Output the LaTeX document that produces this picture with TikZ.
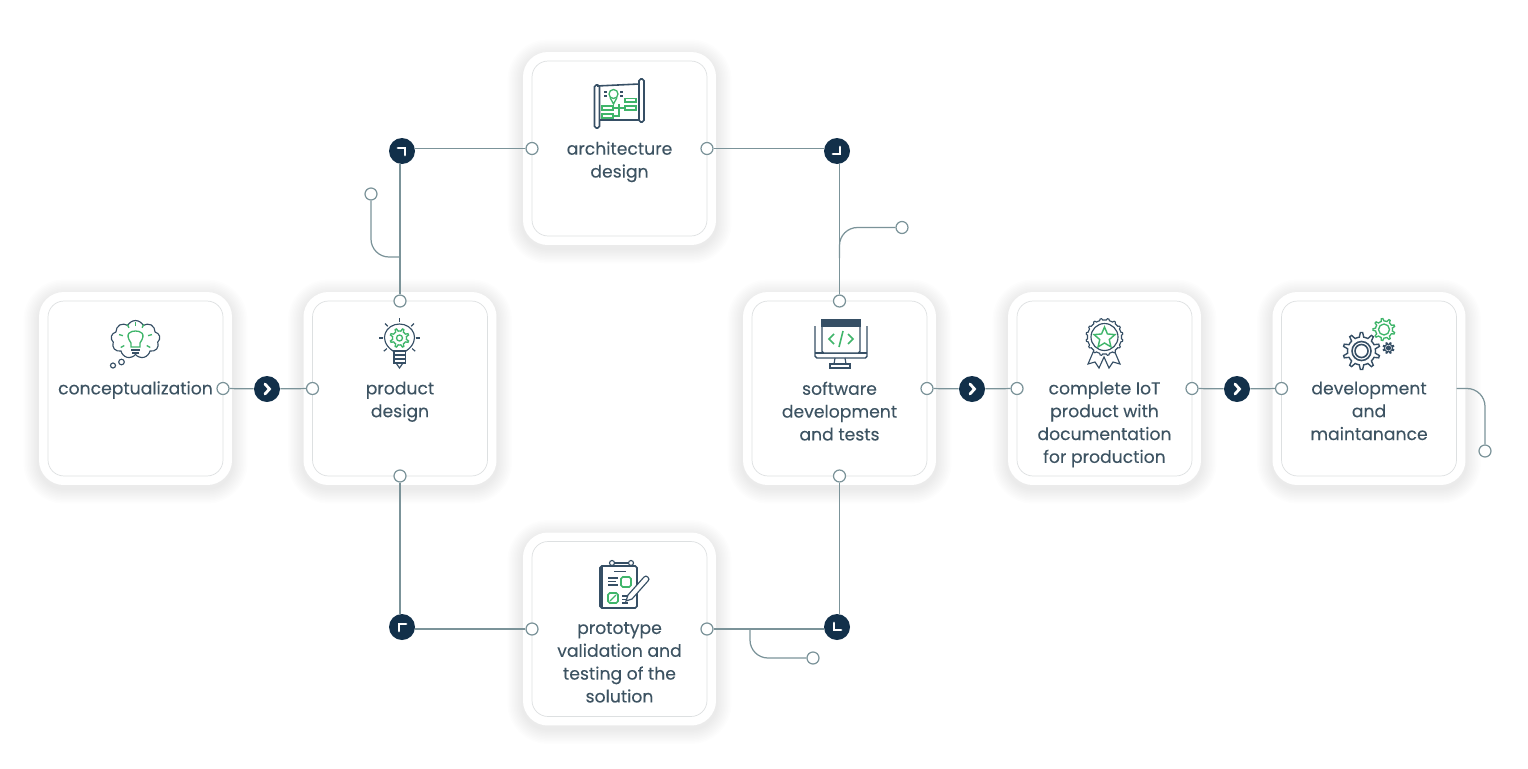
\documentclass[tikz,border=0pt]{standalone}
\usepackage{fontspec}
\setmainfont{Poppins}[FakeBold=0.12]
\usetikzlibrary{backgrounds,shapes.symbols,shapes.geometric}
\definecolor{navy}{HTML}{12304A}
\definecolor{leaf}{HTML}{3FB56A}
\definecolor{wire}{HTML}{7B9399}
\definecolor{slate}{HTML}{3D5362}
\definecolor{rim}{HTML}{DDE0E1}
\newcommand{\gearicon}[6]{\draw[#1,shift={(#2,#3)}] (0:#4) \foreach \k in {1,...,#6} { -- ({(\k-.75)*360/#6}:#4) -- ({(\k-.6)*360/#6}:#5) -- ({(\k-.4)*360/#6}:#5) -- ({(\k-.25)*360/#6}:#4) -- ({\k*360/#6}:#4)} -- cycle;}

\begin{document}
\begin{tikzpicture}[x=0.02cm,y=-0.02cm]
  \tikzstyle{card}=[draw=rim,fill=white,rounded corners=0.32cm,minimum width=3.5cm,minimum height=3.5cm,inner sep=0pt,outer sep=0pt]
  \tikzstyle{cardlabel}=[anchor=north,yshift=0.145cm,align=center,inner sep=0pt,text=slate,font=\fontsize{9.8}{13}\selectfont,execute at begin node=\strut]
  \tikzstyle{port}=[circle,draw=wire,fill=white,line width=0.7pt,minimum size=0.24cm,inner sep=0pt]
  \tikzstyle{hub}=[circle,fill=navy,minimum size=0.52cm,inner sep=0pt]
  \tikzstyle{hubmark}=[white,line width=1.6pt,line cap=round]
  \tikzstyle{wireline}=[wire,line width=0.7pt]
  \tikzstyle{dk}=[navy!85!white,line width=0.65pt]
  \tikzstyle{gn}=[leaf,line width=0.75pt]
  \useasboundingbox (0,0) rectangle (1528,768);
  % cards
  \node[card] (concept) at (135.5,388.5) {};
  \node[card] (product) at (400,388.5) {};
  \node[card] (archi) at (619.5,148.5) {};
  \node[card] (proto) at (619.5,629) {};
  \node[card] (soft) at (839.5,388.5) {};
  \node[card] (iot) at (1104.5,388.5) {};
  \node[card] (devel) at (1369,388.5) {};
  \begin{scope}[on background layer]
    \foreach \n in {concept,product,archi,proto,soft,iot,devel} {
      \foreach \w in {22,25,...,50}
        \draw[black,draw opacity=0.006,line width=\w*0.02cm,rounded corners=0.32cm,transform canvas={yshift=-0.06cm}] (\n.north west) rectangle (\n.south east);
      \draw[white,line width=0.36cm,rounded corners=0.32cm] (\n.north west) rectangle (\n.south east);
    }
  \end{scope}
  % labels
  \node[cardlabel,yshift=0.065cm] (conceptlabel) at (concept.center) {conceptualization};
  \node[cardlabel] (productlabel) at (product.center) {product\\design};
  \node[cardlabel] (archilabel) at (archi.center) {architecture\\design};
  \node[cardlabel] (protolabel) at (proto.center) {prototype\\validation and\\testing of the\\solution};
  \node[cardlabel] (softlabel) at (soft.center) {software\\development\\and tests};
  \node[cardlabel] (iotlabel) at (iot.center) {complete IoT\\product with\\documentation\\for production};
  \node[cardlabel] (devellabel) at (devel.center) {development\\and\\maintanance};
  % ports
  \node[port] (conceptout) at (concept.east) {};
  \node[port] (productin) at (product.west) {};
  \node[port] (producttop) at (product.north) {};
  \node[port] (productbot) at (product.south) {};
  \node[port] (archiin) at (archi.west) {};
  \node[port] (archiout) at (archi.east) {};
  \node[port] (protoin) at (proto.west) {};
  \node[port] (protoout) at (proto.east) {};
  \node[port] (softtop) at (soft.north) {};
  \node[port] (softbot) at (soft.south) {};
  \node[port] (softout) at (soft.east) {};
  \node[port] (iotin) at (iot.west) {};
  \node[port] (iotout) at (iot.east) {};
  \node[port] (develin) at (devel.west) {};
  \node[port] (forka) at (371,194) {};
  \node[port] (forkb) at (902,227.5) {};
  \node[port] (forkc) at (813,658) {};
  \node[port] (forkd) at (1485,451) {};
  % hubs
  \node[hub] (hubone) at (267,389) {};
  \node[hub] (hubtwo) at (972,389) {};
  \node[hub] (hubthree) at (1237,389) {};
  \node[hub] (turntl) at (402,151) {};
  \node[hub] (turntr) at (837,151) {};
  \node[hub] (turnbl) at (402,627) {};
  \node[hub] (turnbr) at (837,627) {};
  \foreach \h in {hubone,hubtwo,hubthree}
    \draw[hubmark] (\h.center) ++(-2,-5) -- ++(4.5,5) -- ++(-4.5,5);
  \draw[hubmark] (turntl.center) ++(-4,-3) -- ++(7,0) -- ++(0,7);
  \draw[hubmark] (turntr.center) ++(-4,3) -- ++(7,0) -- ++(0,-7);
  \draw[hubmark] (turnbl.center) ++(-3,4) -- ++(0,-7) -- ++(7,0);
  \draw[hubmark] (turnbr.center) ++(-3,-4) -- ++(0,7) -- ++(7,0);
  % connectors
  \draw[wireline] (conceptout) -- (hubone);
  \draw[wireline] (hubone) -- (productin);
  \draw[wireline] (softout) -- (hubtwo);
  \draw[wireline] (hubtwo) -- (iotin);
  \draw[wireline] (iotout) -- (hubthree);
  \draw[wireline] (hubthree) -- (develin);
  \draw[wireline] (producttop) -- (producttop |- turntl.south);
  \draw[wireline] (archiin) -- (archiin -| turntl.east);
  \draw[wireline] (archiout) -- (archiout -| turntr.west);
  \draw[wireline] (softtop) -- (softtop |- turntr.south);
  \draw[wireline] (productbot) -- (productbot |- turnbl.north);
  \draw[wireline] (protoin) -- (protoin -| turnbl.east);
  \draw[wireline] (protoout) -- (protoout -| turnbr.west);
  \draw[wireline] (softbot) -- (softbot |- turnbr.north);
  % branches
  \coordinate (junca) at (400,257);
  \coordinate (juncb) at (839.5,258);
  \coordinate (juncc) at (750,629);
  \coordinate (juncd) at (devel.east);
  \draw[wireline,rounded corners=0.36cm] (junca) -- (forka |- junca) -- (forka);
  \draw[wireline,rounded corners=0.36cm] (juncb) -- (juncb |- forkb) -- (forkb);
  \draw[wireline,rounded corners=0.36cm] (juncc) -- (juncc |- forkc) -- (forkc);
  \draw[wireline,rounded corners=0.36cm] (juncd) -- (forkd |- juncd) -- (forkd);
  % thought cloud icon
  \node[cloud,cloud puffs=9,cloud puff arc=130,aspect=1.3,draw=navy!85!white,line width=0.65pt,minimum width=0.98cm,minimum height=0.76cm,inner sep=0pt] (cloudicon) at (135.5,339.5) {};
  \draw[dk] (113,365.5) circle (2.5);
  \draw[dk] (121.5,362) circle (2.8);
  \draw[gn] (131,347) -- (131,343) .. controls (124,333) and (131,331) .. (135.5,331) .. controls (140,331) and (147,333) .. (140,343) -- (140,347) -- cycle;
  \draw[dk] (131,350) -- (140,350) (132,353) -- (139,353);
  \foreach \a in {150,195,240,270,300,345,30}
    \draw[gn] (135.5,339) ++(\a:13) -- ++(\a:4);
  % bulb with gear icon
  \draw[dk] (393,351) .. controls (377,340) and (386,324) .. (399.5,324) .. controls (413,324) and (422,340) .. (406,351) -- cycle;
  \draw[dk] (394,351) rectangle (405.5,363);
  \draw[dk] (394,355) -- (405.5,355) (394,359) -- (405.5,359);
  \draw[dk] (396,363) -- (399.5,368) -- (403,363);
  \gearicon{gn}{399.5}{338}{7}{9.5}{8}
  \draw[gn] (399.5,338) circle (3);
  \foreach \a in {0,45,...,180}
    \draw[dk] (399.5,338) ++(-\a:16.5) -- ++(-\a:4);
  \foreach \a in {-40,220}
    \draw[dk] (399.5,338) ++(-\a:16.5) -- ++(-\a:4);
  % blueprint icon
  \draw[dk,line width=0.9pt,rounded corners=1pt] (594.5,85) rectangle (599.5,128);
  \draw[dk,line width=0.9pt,rounded corners=1pt] (639,79) rectangle (644,122);
  \draw[dk,line width=0.9pt] (597,86) -- (639,84) (599.5,120) -- (639,120);
  \draw[gn] (613.5,94) circle (4.5);
  \draw[gn] (610,97.5) -- (613.5,104) -- (617,97.5);
  \draw[gn] (625,98.5) rectangle (636,102);
  \draw[gn] (602,106) rectangle (613,110);
  \draw[gn] (625,106) rectangle (636,110);
  \draw[gn] (602,114) rectangle (613,118);
  \draw[gn] (613,108) -- (619,108) -- (619,116) -- (613,116) (619,108) -- (625,108) (619,104) -- (619,108);
  \draw[dk] (604,92) -- (607,92) (604,96) -- (607,96) (620,92) -- (623,92) (620,96) -- (623,96);
  % clipboard icon
  \draw[dk,line width=0.9pt,rounded corners=1pt] (600,566) rectangle (637,608);
  \draw[dk,line width=1.3pt] (602,567) -- (602,607);
  \draw[dk] (612,563) circle (2.5) (631,563) circle (2.5);
  \draw[dk] (614.5,563) -- (628.5,563);
  \draw[dk] (614,571.5) -- (626,571.5);
  \draw[dk] (608,578) -- (618,578) (608,581.5) -- (616,581.5) (608,585) -- (618,585);
  \draw[gn,line width=0.9pt,rounded corners=1pt] (621,577) rectangle (631,587);
  \draw[gn,line width=0.9pt,rounded corners=1pt] (608,593) rectangle (618,603);
  \draw[gn] (610,601) -- (616,595);
  \draw[dk] (622,596) -- (629,596) (622,599.5) -- (626,599.5) (622,603) -- (628,603);
  \draw[dk,fill=white] (626,601) -- (628,595) -- (644,577) .. controls (646,574) and (651,579) .. (648,581) -- (632,599) -- cycle;
  % monitor icon
  \draw[dk,line width=0.8pt,rounded corners=1pt] (815,326) -- (815,358) -- (867,358) -- (867,326);
  \draw[dk] (815,353) -- (867,353);
  \draw[dk] (835,358) -- (834,364) (845,358) -- (846,364);
  \draw[dk,line width=0.9pt] (830,364) -- (850,364) -- (850,368) -- (830,368) -- cycle;
  \draw[dk,fill=white,rounded corners=1pt] (822,320) rectangle (860,353);
  \draw[dk,fill=navy!85!white] (822,320) rectangle (860,326);
  \draw[gn,line width=0.9pt] (834,334) -- (829,339) -- (834,344) (848,334) -- (853,339) -- (848,344) (843,331) -- (839,347);
  % rosette icon
  \draw[dk] (1094,350) -- (1088,364) -- (1095,362) -- (1099,368) -- (1104,357) -- (1109,368) -- (1113,362) -- (1120,364) -- (1114,350);
  \gearicon{dk,fill=white}{1104.5}{337}{17}{18.5}{16}
  \draw[dk] (1104.5,337) circle (13.5);
  \node[star,star points=5,star point ratio=2.2,draw=leaf,line width=0.8pt,minimum size=0.44cm,inner sep=0pt] (staricon) at (1104.5,338) {};
  % gears icon
  \gearicon{dk,line width=0.8pt}{1361.5}{351}{14}{18.5}{10}
  \draw[dk,line width=0.9pt] (1361.5,351) circle (9.5) (1361.5,351) circle (6.5);
  \gearicon{gn}{1384}{329.5}{8.5}{11}{9}
  \draw[gn] (1384,329.5) circle (5.5);
  \gearicon{dk}{1388.5}{348}{3.8}{5.5}{8}
  \draw[dk,fill=navy!85!white] (1388.5,348) circle (2);
\end{tikzpicture}
\end{document}
